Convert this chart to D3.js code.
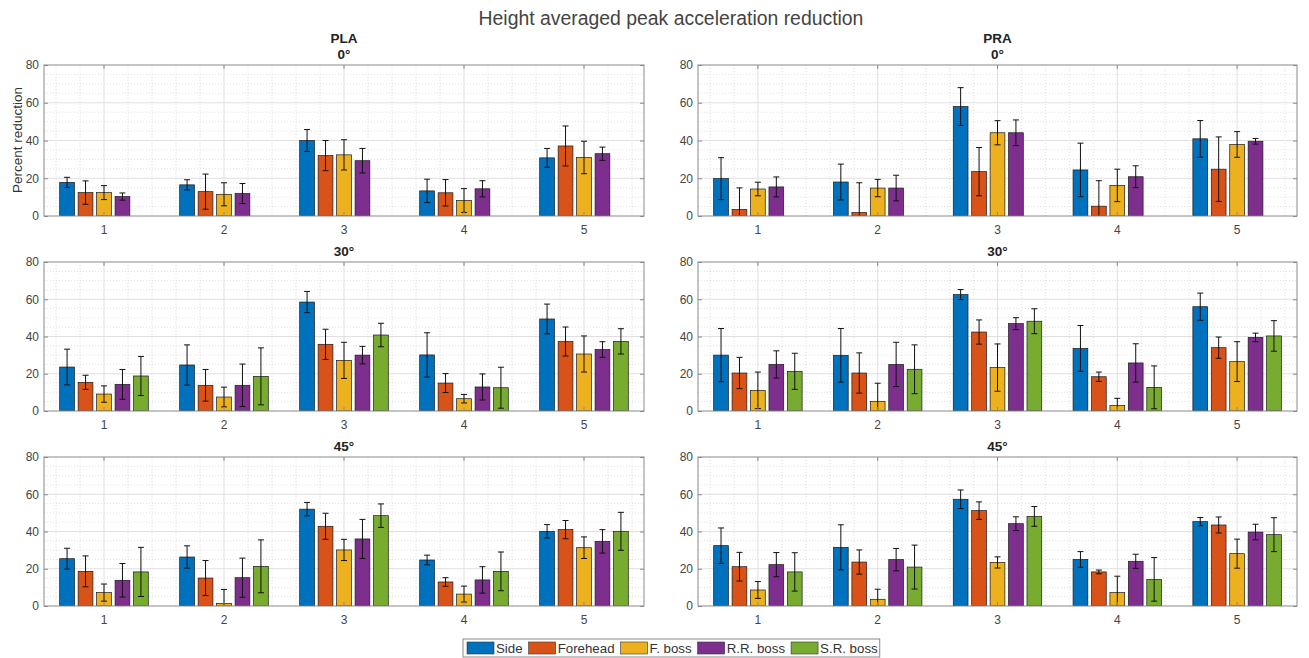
<!DOCTYPE html>
<html>
<head>
<meta charset="utf-8">
<script src="https://cdn.jsdelivr.net/npm/d3@7"></script>
<style>
  body { margin: 0; background: #fff; }
  text { font-family: "Liberation Sans", Arial, Helvetica, sans-serif; }
</style>
</head>
<body>
<div id="chart"></div>
<script>
// Categories, series and ticks
const categories = ["1", "2", "3", "4", "5"];
const seriesNames = ["Side", "Forehead", "F. boss", "R.R. boss", "S.R. boss"];
const yTicks = [0, 20, 40, 60, 80];

// one row per series, one column per category (null = not measured)
const pla0Mean = [
  [17.8, 16.5, 40.0, 13.3, 30.8],
  [12.4, 12.9, 32.0, 12.3, 37.1],
  [12.4, 11.5, 32.4, 8.2, 31.0],
  [10.3, 11.9, 29.3, 14.4, 33.0],
  [null, null, null, null, null]
];
const pla0Err = [
  [2.7, 2.7, 5.8, 6.2, 5.0],
  [6.2, 9.3, 8.0, 7.0, 10.6],
  [3.7, 6.1, 8.0, 6.3, 8.6],
  [1.9, 5.3, 6.5, 4.3, 3.5],
  [null, null, null, null, null]
];

const pra0Mean = [
  [19.8, 18.0, 58.0, 24.4, 40.9],
  [3.5, 1.8, 23.5, 5.2, 24.8],
  [14.3, 14.8, 44.1, 16.2, 37.9],
  [15.4, 14.8, 44.1, 20.8, 39.6],
  [null, null, null, null, null]
];
const pra0Err = [
  [11.1, 9.5, 10.0, 14.2, 9.7],
  [11.4, 15.8, 12.8, 13.5, 17.1],
  [3.6, 4.6, 6.4, 8.6, 6.8],
  [5.3, 6.8, 6.8, 5.8, 1.5],
  [null, null, null, null, null]
];

const pla30Mean = [
  [23.6, 24.7, 58.5, 30.1, 49.4],
  [15.4, 13.8, 35.8, 15.0, 37.3],
  [9.1, 7.5, 27.2, 6.6, 30.6],
  [14.3, 13.8, 30.0, 12.9, 33.0],
  [18.8, 18.6, 40.8, 12.5, 37.4]
];
const pla30Err = [
  [9.6, 10.8, 5.7, 11.9, 8.0],
  [3.8, 8.5, 8.1, 5.1, 7.8],
  [4.4, 5.3, 9.7, 2.3, 9.7],
  [8.0, 11.4, 4.7, 7.0, 4.2],
  [10.5, 15.3, 6.3, 11.0, 6.8]
];

const pra30Mean = [
  [30.0, 29.9, 62.5, 33.6, 56.0],
  [20.4, 20.4, 42.4, 18.4, 34.0],
  [11.1, 5.2, 23.3, 3.0, 26.5],
  [25.0, 25.0, 46.9, 25.8, 39.5],
  [21.3, 22.4, 48.2, 12.7, 40.3]
];
const pra30Err = [
  [14.3, 14.4, 2.7, 12.3, 7.3],
  [8.4, 10.8, 6.5, 2.5, 5.7],
  [9.8, 9.7, 12.7, 3.8, 10.7],
  [7.3, 11.9, 3.2, 10.3, 2.3],
  [9.7, 13.1, 6.7, 11.5, 8.2]
];

const pla45Mean = [
  [25.4, 26.3, 52.0, 24.7, 40.1],
  [18.6, 15.0, 42.8, 12.9, 41.0],
  [7.2, 1.4, 30.1, 6.4, 31.3],
  [13.8, 15.2, 36.0, 14.0, 34.7],
  [18.3, 21.3, 48.5, 18.6, 40.1]
];
const pla45Err = [
  [5.6, 6.0, 3.6, 2.6, 3.6],
  [8.3, 9.4, 7.0, 2.3, 4.9],
  [4.6, 7.5, 5.7, 4.3, 5.8],
  [9.0, 10.5, 10.5, 7.1, 6.3],
  [13.2, 14.2, 6.3, 10.4, 10.2]
];

const pra45Mean = [
  [32.4, 31.5, 57.3, 25.0, 45.3],
  [21.1, 23.6, 51.2, 18.3, 43.5],
  [8.6, 3.6, 23.4, 7.2, 28.1],
  [22.2, 24.9, 44.2, 24.0, 39.7],
  [18.3, 20.9, 48.1, 14.3, 38.3]
];
const pra45Err = [
  [9.5, 12.1, 5.0, 4.2, 2.2],
  [7.7, 6.5, 4.7, 1.0, 4.3],
  [4.5, 5.4, 3.0, 8.8, 7.8],
  [6.5, 6.0, 3.7, 3.8, 4.2],
  [10.3, 11.8, 5.3, 11.7, 9.1]
];

// MATLAB default colour order
const colors = ["#0072BD", "#D95319", "#EDB120", "#7E2F8E", "#77AC30"];

// Layout
const width = 1309;
const height = 658;
const cols = [{x: 44, w: 600}, {x: 698, w: 599}];
const rows = [{y: 65, h: 151}, {y: 262, h: 149}, {y: 457, h: 149}];

const panels = [
  {mat: "PLA", angle: "0°",  col: 0, row: 0, mean: pla0Mean,  err: pla0Err},
  {mat: "PRA", angle: "0°",  col: 1, row: 0, mean: pra0Mean,  err: pra0Err},
  {mat: "",    angle: "30°", col: 0, row: 1, mean: pla30Mean, err: pla30Err},
  {mat: "",    angle: "30°", col: 1, row: 1, mean: pra30Mean, err: pra30Err},
  {mat: "",    angle: "45°", col: 0, row: 2, mean: pla45Mean, err: pla45Err},
  {mat: "",    angle: "45°", col: 1, row: 2, mean: pra45Mean, err: pra45Err}
];

const svg = d3.select("#chart")
  .append("svg")
  .attr("width", width)
  .attr("height", height)
  .style("background", "#fff");

// Main title
svg.append("text")
  .attr("x", 671)
  .attr("y", 25)
  .attr("text-anchor", "middle")
  .style("font-size", "19.4px")
  .style("fill", "#444")
  .text("Height averaged peak acceleration reduction");

// Y axis label (only first panel)
svg.append("text")
  .attr("transform", "translate(22,140) rotate(-90)")
  .attr("text-anchor", "middle")
  .style("font-size", "13.5px")
  .style("fill", "#333")
  .text("Percent reduction");

panels.forEach((p, i) => {
  const c = cols[p.col];
  const r = rows[p.row];
  const w = c.w;
  const h = r.h;

  const g = svg.append("g")
    .attr("transform", `translate(${c.x},${r.y})`);

  // group scale and series scale (MATLAB grouped bar layout)
  const x = d3.scaleBand().domain(categories).range([0, w]).padding(0);
  const xs = d3.scaleLinear().domain([0.5, 5.5]).range([0, w]);
  const groupW = x.bandwidth() * Math.min(0.8, 5 / 6.5);
  const x1 = d3.scaleBand()
    .domain(seriesNames)
    .range([-groupW / 2, groupW / 2])
    .paddingInner(0.2)
    .paddingOuter(0.1);
  const y = d3.scaleLinear().domain([0, 80]).range([h, 0]);

  // titles
  if (p.mat) {
    g.append("text")
      .attr("x", w / 2)
      .attr("y", -22)
      .attr("text-anchor", "middle")
      .style("font-size", "13.5px")
      .style("font-weight", "bold")
      .style("fill", "#222")
      .text(p.mat);
  }
  g.append("text")
    .attr("x", w / 2)
    .attr("y", -6)
    .attr("text-anchor", "middle")
    .style("font-size", "13.5px")
    .style("font-weight", "bold")
    .style("fill", "#222")
    .text(p.angle);

  // minor grid
  const minorY = d3.range(5, 80, 5).filter(v => v % 20 !== 0);
  g.append("g").selectAll("line")
    .data(minorY)
    .join("line")
    .attr("x1", 0).attr("x2", w)
    .attr("y1", d => y(d)).attr("y2", d => y(d))
    .attr("stroke", "#d4d4d4")
    .attr("stroke-width", 0.7)
    .attr("stroke-dasharray", "1,2");

  const minorX = d3.range(3, 28).map(k => k / 5).filter(v => Math.abs(v - Math.round(v)) > 0.01);
  g.append("g").selectAll("line")
    .data(minorX)
    .join("line")
    .attr("x1", d => xs(d)).attr("x2", d => xs(d))
    .attr("y1", 0).attr("y2", h)
    .attr("stroke", "#d4d4d4")
    .attr("stroke-width", 0.7)
    .attr("stroke-dasharray", "1,2");

  // major grid
  g.append("g").selectAll("line")
    .data(yTicks.slice(1, -1))
    .join("line")
    .attr("x1", 0).attr("x2", w)
    .attr("y1", d => y(d)).attr("y2", d => y(d))
    .attr("stroke", "#e0e0e0")
    .attr("stroke-width", 1);

  g.append("g").selectAll("line")
    .data(categories)
    .join("line")
    .attr("x1", d => x(d) + x.bandwidth() / 2)
    .attr("x2", d => x(d) + x.bandwidth() / 2)
    .attr("y1", 0).attr("y2", h)
    .attr("stroke", "#e0e0e0")
    .attr("stroke-width", 1);

  // flatten data for bars
  const flat = [];
  p.mean.forEach((row, s) => {
    row.forEach((v, k) => {
      if (v !== null) {
        flat.push({s: s, cat: categories[k], v: v, e: p.err[s][k]});
      }
    });
  });

  const clipId = "clip" + i;
  g.append("clipPath").attr("id", clipId)
    .append("rect").attr("width", w).attr("height", h);

  const plot = g.append("g").attr("clip-path", `url(#${clipId})`);
  const cx = d => x(d.cat) + x.bandwidth() / 2 + x1(seriesNames[d.s]);

  plot.selectAll(".bar")
    .data(flat)
    .join("rect")
    .attr("class", "bar")
    .attr("x", d => cx(d))
    .attr("y", d => y(d.v))
    .attr("width", x1.bandwidth())
    .attr("height", d => h - y(d.v))
    .attr("fill", d => colors[d.s])
    .attr("stroke", "#1a1a1a")
    .attr("stroke-width", 0.7);

  // error bars
  const mid = d => cx(d) + x1.bandwidth() / 2;
  const capW = 3;
  const eb = plot.append("g")
    .attr("stroke", "#111")
    .attr("stroke-width", 1);
  eb.selectAll(".stem")
    .data(flat)
    .join("line")
    .attr("class", "stem")
    .attr("x1", mid).attr("x2", mid)
    .attr("y1", d => y(d.v - d.e))
    .attr("y2", d => y(d.v + d.e));
  eb.selectAll(".capTop")
    .data(flat)
    .join("line")
    .attr("class", "capTop")
    .attr("x1", d => mid(d) - capW).attr("x2", d => mid(d) + capW)
    .attr("y1", d => y(d.v + d.e)).attr("y2", d => y(d.v + d.e));
  eb.selectAll(".capBot")
    .data(flat)
    .join("line")
    .attr("class", "capBot")
    .attr("x1", d => mid(d) - capW).attr("x2", d => mid(d) + capW)
    .attr("y1", d => y(d.v - d.e)).attr("y2", d => y(d.v - d.e));

  // axes with inward ticks
  const axisColor = "#8a8a8a";
  const left = g.append("g")
    .call(d3.axisLeft(y).tickValues(yTicks).tickSizeInner(-4).tickSizeOuter(0).tickPadding(5));
  const bottom = g.append("g")
    .attr("transform", `translate(0,${h})`)
    .call(d3.axisBottom(x).tickSizeInner(-4).tickSizeOuter(0).tickPadding(9));
  const right = g.append("g")
    .attr("transform", `translate(${w},0)`)
    .call(d3.axisRight(y).tickValues(yTicks).tickSizeInner(-4).tickSizeOuter(0).tickFormat(""));
  const top = g.append("g")
    .call(d3.axisTop(x).tickSizeInner(-4).tickSizeOuter(0).tickFormat(""));

  [left, bottom, right, top].forEach(a => {
    a.select(".domain").remove();
    a.selectAll(".tick line").attr("stroke", axisColor);
    a.selectAll(".tick text")
      .style("font-size", "12px")
      .style("fill", "#444")
      .style("font-family", "'Liberation Sans', Arial, sans-serif");
  });

  g.append("rect")
    .attr("width", w)
    .attr("height", h)
    .attr("fill", "none")
    .attr("stroke", axisColor)
    .attr("stroke-width", 1);
});

// Legend
const legend = svg.append("g");
const legBox = legend.append("rect")
  .attr("x", 463)
  .attr("y", 639)
  .attr("height", 18)
  .attr("fill", "#fff")
  .attr("stroke", "#8a8a8a")
  .attr("stroke-width", 1);

let lx = 467;
seriesNames.forEach((name, s) => {
  legend.append("rect")
    .attr("x", lx)
    .attr("y", 642)
    .attr("width", 27)
    .attr("height", 12)
    .attr("fill", colors[s])
    .attr("stroke", "#333")
    .attr("stroke-width", 0.6);
  const t = legend.append("text")
    .attr("x", lx + 29)
    .attr("y", 653)
    .style("font-size", "13.3px")
    .style("fill", "#333")
    .text(name);
  lx = lx + 29 + t.node().getComputedTextLength() + 6;
});
legBox.attr("width", lx - 463 - 4);
</script>
</body>
</html>
